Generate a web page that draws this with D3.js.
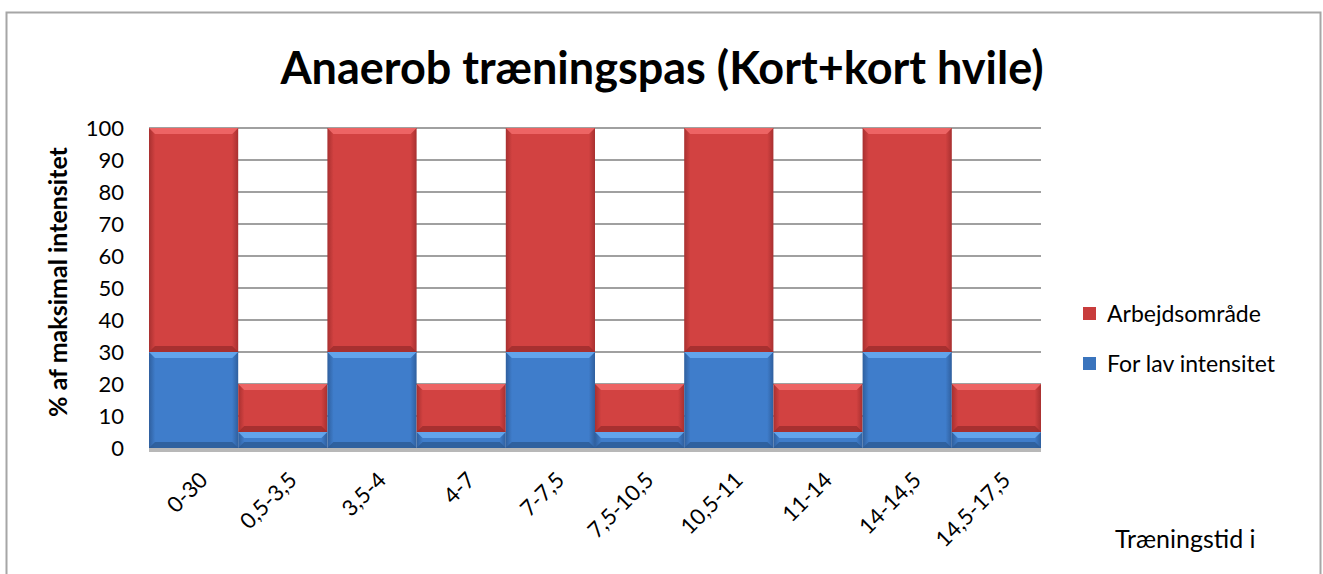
<!DOCTYPE html>
<html>
<head>
    <title>Anaerob træningspas</title>
    <script src="https://d3js.org/d3.v7.min.js"></script>
    <style>
        body { margin: 0; background: #fff; }
        text { font-family: Lato, "Open Sans", sans-serif; fill: #000; }
    </style>
</head>
<body>
    <div id="chart"></div>
    <script>
        // data
        var categories = ["0-30", "0,5-3,5", "3,5-4", "4-7", "7-7,5", "7,5-10,5", "10,5-11", "11-14", "14-14,5", "14,5-17,5"];
        var lowValues = [30, 5, 30, 5, 30, 5, 30, 5, 30, 5];        // For lav intensitet
        var workValues = [70, 15, 70, 15, 70, 15, 70, 15, 70, 15];  // Arbejdsområde
        var seriesNames = ["Arbejdsområde", "For lav intensitet"];
        var yTicks = [0, 10, 20, 30, 40, 50, 60, 70, 80, 90, 100];

        var width = 1323, height = 574;
        var plotLeft = 149, plotRight = 1041, plotTop = 128, plotBottom = 448;

        var svg = d3.select("#chart").append("svg")
            .attr("width", width)
            .attr("height", height);

        // outer frame
        svg.append("rect")
            .attr("x", 6.5).attr("y", 12.5)
            .attr("width", 1314).attr("height", 600)
            .attr("fill", "#fff")
            .attr("stroke", "#a6a6a6")
            .attr("stroke-width", 2);

        var x = d3.scaleBand().domain(categories).range([plotLeft, plotRight]).padding(0);
        var y = d3.scaleLinear().domain([0, 100]).range([plotBottom, plotTop]);

        // gridlines
        svg.append("g").selectAll("line")
            .data(yTicks.slice(1))
            .enter().append("line")
            .attr("x1", plotLeft).attr("x2", plotRight)
            .attr("y1", function(d) { return y(d); })
            .attr("y2", function(d) { return y(d); })
            .attr("stroke", "#a0a0a0")
            .attr("stroke-width", 2);

        // shadow below the floor
        svg.append("rect")
            .attr("x", plotLeft).attr("y", y(0))
            .attr("width", plotRight - plotLeft).attr("height", 4)
            .attr("fill", "#b8b8b8");

        var defs = svg.append("defs");
        function makeGrad(id, edge, mid) {
            var g = defs.append("linearGradient").attr("id", id)
                .attr("x1", 0).attr("x2", 1).attr("y1", 0).attr("y2", 0);
            g.append("stop").attr("offset", "0").attr("stop-color", edge);
            g.append("stop").attr("offset", "0.07").attr("stop-color", mid);
            g.append("stop").attr("offset", "0.93").attr("stop-color", mid);
            g.append("stop").attr("offset", "1").attr("stop-color", edge);
        }
        makeGrad("gRed", "#a83030", "#d24241");
        makeGrad("gBlue", "#2f5f9e", "#3f7dcb");

        var colors = {
            red: { grad: "url(#gRed)", light: "#ef6868", dark: "#9c2c2c" },
            blue: { grad: "url(#gBlue)", light: "#66a8ef", dark: "#2c5a93" }
        };

        var segs = [];
        categories.forEach(function(c, i) {
            segs.push({ cat: c, y0: 0, y1: lowValues[i], col: colors.blue });
            segs.push({ cat: c, y0: lowValues[i], y1: lowValues[i] + workValues[i], col: colors.red });
        });

        var b = 6;
        var bars = svg.append("g").selectAll("g")
            .data(segs)
            .enter().append("g");

        bars.append("rect")
            .attr("x", function(d) { return x(d.cat); })
            .attr("y", function(d) { return y(d.y1); })
            .attr("width", x.bandwidth())
            .attr("height", function(d) { return y(d.y0) - y(d.y1); })
            .attr("fill", function(d) { return d.col.grad; });

        // top bevel
        bars.append("polygon")
            .attr("points", function(d) {
                var x0 = x(d.cat), x1 = x0 + x.bandwidth(), yt = y(d.y1);
                return [[x0, yt], [x1, yt], [x1 - b, yt + b], [x0 + b, yt + b]].join(" ");
            })
            .attr("fill", function(d) { return d.col.light; })
            .attr("opacity", 0.9);

        // bottom bevel
        bars.append("polygon")
            .attr("points", function(d) {
                var x0 = x(d.cat), x1 = x0 + x.bandwidth(), yb = y(d.y0);
                return [[x0, yb], [x1, yb], [x1 - b, yb - b], [x0 + b, yb - b]].join(" ");
            })
            .attr("fill", function(d) { return d.col.dark; })
            .attr("opacity", 0.8);

        // y axis labels
        var yAxis = svg.append("g")
            .attr("transform", "translate(" + (plotLeft - 25) + ",0)")
            .call(d3.axisLeft(y).tickValues(yTicks).tickSize(0).tickPadding(0));
        yAxis.select(".domain").remove();
        yAxis.selectAll("text")
            .attr("font-size", 22)
            .attr("font-family", "Lato, sans-serif")
            .attr("dy", "0.35em");

        // x axis labels
        var xAxis = svg.append("g")
            .attr("transform", "translate(0," + plotBottom + ")")
            .call(d3.axisBottom(x).tickSize(0).tickPadding(0));
        xAxis.select(".domain").remove();
        xAxis.selectAll("text")
            .attr("font-size", 22)
            .attr("font-family", "Lato, sans-serif")
            .attr("text-anchor", "end")
            .attr("dy", "0.35em")
            .attr("transform", "translate(10,28) rotate(-45)");

        // title
        svg.append("text")
            .attr("x", 662).attr("y", 84)
            .attr("text-anchor", "middle")
            .attr("font-size", 45)
            .attr("font-weight", "bold")
            .text("Anaerob træningspas (Kort+kort hvile)");

        // y axis title
        svg.append("text")
            .attr("transform", "translate(67,282) rotate(-90)")
            .attr("text-anchor", "middle")
            .attr("font-size", 25)
            .attr("font-weight", "bold")
            .text("% af maksimal intensitet");

        // x axis title
        svg.append("text")
            .attr("x", 1115).attr("y", 548)
            .attr("font-size", 25)
            .text("Træningstid i");

        // legend
        var legend = svg.append("g").selectAll("g")
            .data(seriesNames)
            .enter().append("g")
            .attr("transform", function(d, i) { return "translate(1083," + (307 + i * 50) + ")"; });
        legend.append("rect")
            .attr("width", 13).attr("height", 13)
            .attr("fill", function(d, i) { return i === 0 ? "#c83c3c" : "#3a74bd"; });
        legend.append("text")
            .attr("x", 24).attr("y", 15)
            .attr("font-size", 23)
            .text(function(d) { return d; });
    </script>
</body>
</html>
